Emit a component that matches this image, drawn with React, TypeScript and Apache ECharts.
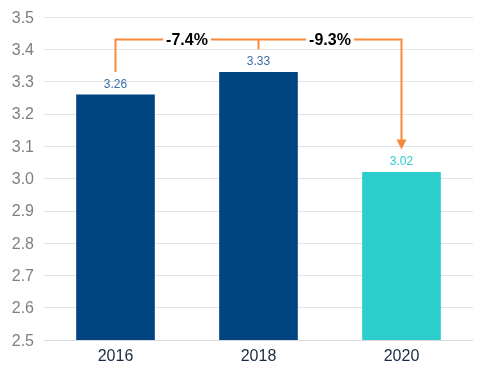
import React, { useEffect, useRef } from "react";
import * as echarts from "echarts";

const categories = ["2016", "2018", "2020"];
const values = [3.26, 3.33, 3.02];
const barColors = ["#004481", "#004481", "#2DCCCD"];
const labelColors = ["#3a6ea5", "#3a6ea5", "#2DCCCD"];
const changes = ["-7.4%", "-9.3%"];
const bracketLevel = 3.43;
const leftDropTo = 3.33;
const midTickTo = 3.4;
const arrowTipAt = 3.09;

export default function App() {
  const ref = useRef<HTMLDivElement>(null);
  useEffect(() => {
    const chart = echarts.init(ref.current!, null, { renderer: "svg" });
    chart.setOption({
      animation: false,
      grid: { left: 44, right: 10, top: 17, bottom: 32 },
      xAxis: {
        type: "category",
        data: categories,
        axisTick: { show: false },
        axisLine: { lineStyle: { color: "#d9d9d9", width: 1 } },
        axisLabel: { color: "#1a2a40", fontSize: 16, fontFamily: "Liberation Sans, Arial", margin: 7 },
      },
      yAxis: {
        type: "value",
        min: 2.5,
        max: 3.5,
        interval: 0.1,
        axisLabel: {
          color: "#7f7f7f",
          fontSize: 16,
          fontFamily: "Liberation Sans, Arial",
          margin: 10,
          formatter: (v: number) => v.toFixed(1),
        },
        splitLine: { lineStyle: { color: "#e3e3e3", width: 1 } },
        axisLine: { show: false },
        axisTick: { show: false },
      },
      series: [
        {
          type: "bar",
          barWidth: "55%",
          data: values.map((v, i) => ({
            value: v,
            itemStyle: { color: barColors[i] },
            label: { color: labelColors[i] },
          })),
          label: {
            show: true,
            position: "top",
            distance: 5,
            fontSize: 12,
            fontFamily: "Liberation Sans, Arial",
            formatter: (p: any) => p.value.toFixed(2),
          },
        },
      ],
    });

    const px = (i: number, v: number) =>
      chart.convertToPixel({ seriesIndex: 0 }, [i, v]) as number[];
    const [x0, yB] = px(0, bracketLevel);
    const [x1] = px(1, bracketLevel);
    const [x2] = px(2, bracketLevel);
    const yLeft = px(0, leftDropTo)[1];
    const yMid = px(1, midTickTo)[1];
    const yTip = px(2, arrowTipAt)[1];
    const orange = "#F7893B";
    const ls = { stroke: orange, lineWidth: 2, fill: null };
    const pctStyle = {
      fontSize: 16,
      fontWeight: "bold",
      fontFamily: "Liberation Sans, Arial",
      fill: "#000",
      align: "center",
      verticalAlign: "middle",
      backgroundColor: "#fff",
      padding: [0, 3],
    };
    chart.setOption({
      graphic: [
        { type: "polyline", shape: { points: [[x0, yLeft], [x0, yB], [x2, yB], [x2, yTip - 9]] }, style: ls, z: 10 },
        { type: "line", shape: { x1: x1, y1: yB, x2: x1, y2: yMid }, style: ls, z: 10 },
        {
          type: "polygon",
          shape: { points: [[x2 - 5, yTip - 10], [x2 + 5, yTip - 10], [x2, yTip]] },
          style: { fill: orange },
          z: 10,
        },
        { type: "text", x: (x0 + x1) / 2, y: yB, style: { ...pctStyle, text: changes[0] }, z: 11 },
        { type: "text", x: (x1 + x2) / 2, y: yB, style: { ...pctStyle, text: changes[1] }, z: 11 },
      ],
    });
    return () => chart.dispose();
  }, []);
  return <div ref={ref} style={{ width: 483, height: 372, position: "fixed", left: 0, top: 0 }} />;
}
